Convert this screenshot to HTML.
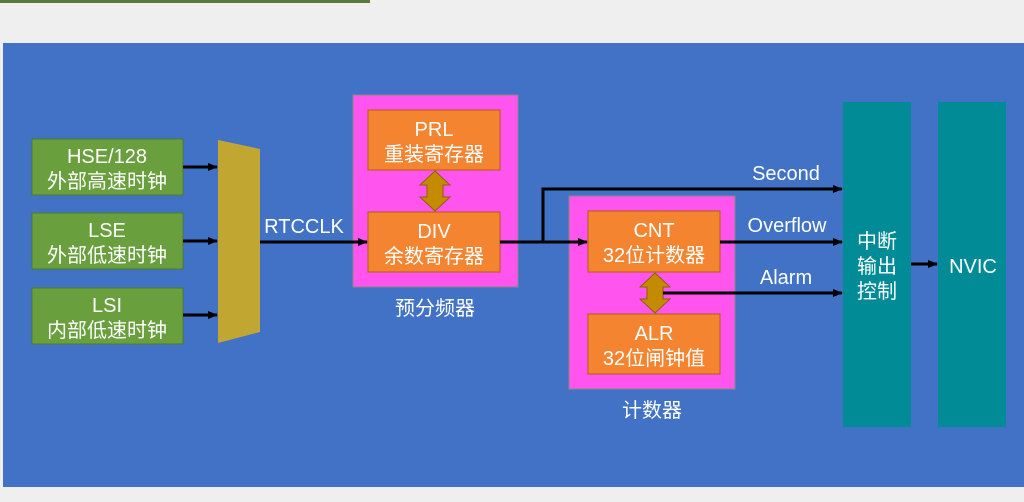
<!DOCTYPE html>
<html><head><meta charset="utf-8"><style>
body{margin:0;width:1024px;height:502px;background:#efefef;overflow:hidden;font-family:"Liberation Sans","Noto Sans CJK SC",sans-serif}
svg{position:absolute;left:0;top:0}
text{fill:#fff;font-family:"Liberation Sans","Noto Sans CJK SC",sans-serif;font-size:20px;text-anchor:middle}
</style></head><body>
<svg width="1024" height="502" viewBox="0 0 1024 502">
<defs><marker id="a" markerWidth="10" markerHeight="8" refX="9" refY="4" orient="auto" markerUnits="userSpaceOnUse"><path d="M0,0L10,4L0,8z" fill="#000"/></marker></defs>
<rect x="0" y="0" width="370" height="3" fill="#5a7a3a"/>
<rect x="3" y="43" width="1021" height="444" fill="#4172c6"/>
<g fill="#6a9f3e" stroke="#4d7a2a">
<rect x="32" y="139" width="151" height="56"/><rect x="32" y="213" width="151" height="56"/><rect x="32" y="288" width="151" height="56"/></g>
<text x="107" y="163">HSE/128</text><text x="107" y="188">外部高速时钟</text>
<text x="107" y="237">LSE</text><text x="107" y="262">外部低速时钟</text>
<text x="107" y="312">LSI</text><text x="107" y="337">内部低速时钟</text>
<polygon points="218,140 260,149 260,332 218,343" fill="#c2a632"/>
<g stroke="#000" stroke-width="3" fill="none">
<line x1="183" y1="167" x2="217" y2="167" marker-end="url(#a)"/>
<line x1="183" y1="241" x2="217" y2="241" marker-end="url(#a)"/>
<line x1="183" y1="315" x2="217" y2="315" marker-end="url(#a)"/>
</g>
<rect x="353" y="95" width="165" height="192" fill="#ff55ee" stroke="#888"/>
<rect x="569" y="196" width="166" height="193" fill="#ff55ee" stroke="#888"/>
<g fill="#f48430" stroke="#b05a10">
<rect x="368" y="110" width="132" height="60"/><rect x="368" y="212" width="132" height="60"/>
<rect x="588" y="211" width="132" height="61"/><rect x="588" y="314" width="132" height="60"/></g>
<text x="434" y="136">PRL</text><text x="434" y="161">重装寄存器</text>
<text x="434" y="238">DIV</text><text x="434" y="263">余数寄存器</text>
<text x="654" y="237">CNT</text><text x="654" y="262">32位计数器</text>
<text x="654" y="340">ALR</text><text x="654" y="365">32位闸钟值</text>
<polygon points="435,171 450,185 443,185 443,197 450,197 435,211 420,197 427,197 427,185 420,185" fill="#c48a00" stroke="#8a6000"/>
<polygon points="655,273 670,287 663,287 663,299 670,299 655,313 640,299 647,299 647,287 640,287" fill="#c48a00" stroke="#8a6000"/>
<text x="304" y="233">RTCCLK</text>
<text x="435" y="315">预分频器</text><text x="652" y="417">计数器</text>
<rect x="843" y="102" width="68" height="325" fill="#008b96"/>
<rect x="938" y="102" width="68" height="325" fill="#008b96"/>
<text x="877" y="248">中断</text><text x="877" y="273">输出</text><text x="877" y="298">控制</text>
<text x="973" y="273">NVIC</text>
<g stroke="#000" stroke-width="3" fill="none">
<line x1="260" y1="242" x2="367" y2="242" marker-end="url(#a)"/>
<line x1="500" y1="242" x2="587" y2="242" marker-end="url(#a)"/>
<polyline points="543,242 543,189 842,189" marker-end="url(#a)"/>
<line x1="720" y1="242" x2="842" y2="242" marker-end="url(#a)"/>
<line x1="663" y1="293" x2="842" y2="293" marker-end="url(#a)"/>
<line x1="911" y1="264" x2="937" y2="264" marker-end="url(#a)"/>
</g>
<text x="786" y="180">Second</text><text x="787" y="232">Overflow</text><text x="786" y="284">Alarm</text>
</svg>
</body></html>
